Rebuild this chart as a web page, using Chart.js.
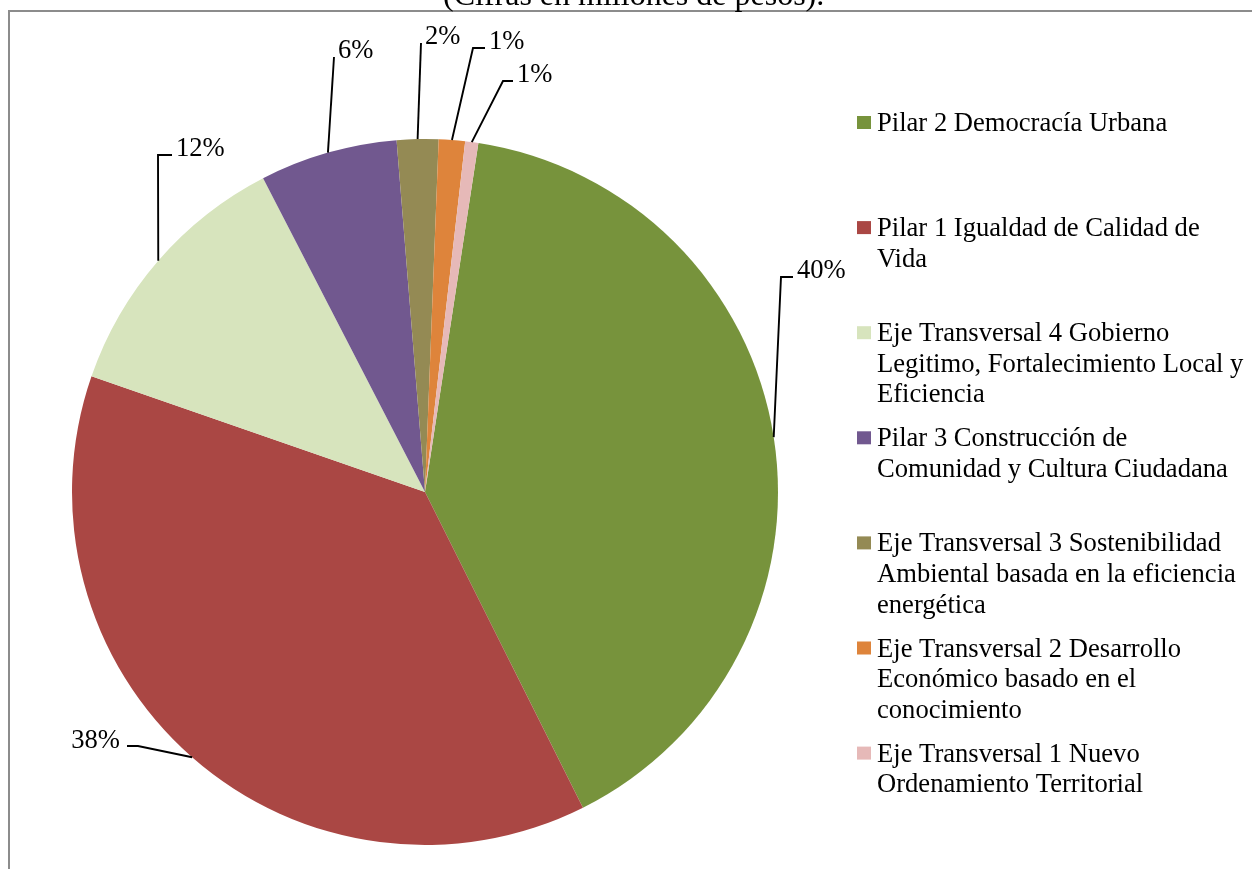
<!DOCTYPE html>
<html>
<head>
<meta charset="utf-8">
<script src="https://cdn.jsdelivr.net/npm/chart.js@4.4.0/dist/chart.umd.min.js"></script>
<style>
  html, body { margin: 0; padding: 0; background: #fff; }
  #wrap { position: relative; width: 1252px; height: 869px; }
</style>
</head>
<body>
<div id="wrap"><canvas id="pieChart"></canvas></div>
<script>
// Data (share of budget, %)
const categories = [
    "Pilar 2 Democracía Urbana",
    "Pilar 1 Igualdad de Calidad de Vida",
    "Eje Transversal 4 Gobierno Legitimo, Fortalecimiento Local y Eficiencia",
    "Pilar 3 Construcción de Comunidad y Cultura Ciudadana",
    "Eje Transversal 3 Sostenibilidad Ambiental basada en la eficiencia energética",
    "Eje Transversal 2 Desarrollo Económico basado en el conocimiento",
    "Eje Transversal 1 Nuevo Ordenamiento Territorial",
];
const shares = [40.2, 37.7, 12.1, 6.3, 1.9, 1.2, 0.6];

// Legend lines as they wrap in the reference
const legendLines = [
    ["Pilar 2 Democracía Urbana"],
    ["Pilar 1 Igualdad de Calidad de", "Vida"],
    ["Eje Transversal 4 Gobierno", "Legitimo, Fortalecimiento Local y", "Eficiencia"],
    ["Pilar 3 Construcción de", "Comunidad y Cultura Ciudadana"],
    ["Eje Transversal 3 Sostenibilidad", "Ambiental basada en la eficiencia", "energética"],
    ["Eje Transversal 2 Desarrollo", "Económico basado en el", "conocimiento"],
    ["Eje Transversal 1 Nuevo", "Ordenamiento Territorial"],
];

const titleText = "(Cifras en millones de pesos).";

const sliceColors = ["#77933C", "#AA4744", "#D7E4BD", "#71588F", "#948A54", "#DE843B", "#E6B9B8"];

// elbow of each leader line, relative to pie centre, plus horizontal tail
const labelSpots = [
    [356, -215, 12],
    [-287, 254, -11],
    [-267, -337, 14],
    [-91, -435, 0],
    [-4, -449, 0],
    [48, -444, 12],
    [78, -411, 10],
];

const FONT = "Liberation Serif, 'Times New Roman', serif";

// frame + title
const framePlugin = {
    id: "frame",
    beforeDraw(chart) {
        const c = chart.ctx;
        c.save();
        c.strokeStyle = "#8c8c8c";
        c.lineWidth = 2;
        c.beginPath();
        c.moveTo(9, 900);
        c.lineTo(9, 11);
        c.lineTo(1300, 11);
        c.stroke();
        c.fillStyle = "#000";
        c.font = "32px " + FONT;
        c.textAlign = "left";
        c.textBaseline = "alphabetic";
        c.fillText(titleText, 443, 5);
        c.restore();
    },
};

// percentage labels with leader lines
const labelPlugin = {
    id: "pctLabels",
    afterDatasetsDraw(chart) {
        const c = chart.ctx;
        const meta = chart.getDatasetMeta(0);
        const data = chart.data.datasets[0].data;
        const total = data.reduce((a, b) => a + b, 0);
        c.save();
        c.strokeStyle = "#000";
        c.lineWidth = 1.9;
        c.fillStyle = "#000";
        c.font = "26.6px " + FONT;
        c.textBaseline = "alphabetic";
        meta.data.forEach((arc, i) => {
            const mid = (arc.startAngle + arc.endAngle) / 2;
            const sx = arc.x + Math.cos(mid) * arc.outerRadius;
            const sy = arc.y + Math.sin(mid) * arc.outerRadius;
            const [ex, ey, tail] = labelSpots[i];
            const elx = arc.x + ex, ely = arc.y + ey;
            c.beginPath();
            c.moveTo(sx, sy);
            c.lineTo(elx, ely);
            c.lineTo(elx + tail, ely);
            c.stroke();
            const txt = Math.round(data[i] / total * 100) + "%";
            if (tail < 0) {
                c.textAlign = "right";
                c.fillText(txt, elx + tail - 7, ely + 2);
            } else {
                c.textAlign = "left";
                c.fillText(txt, elx + tail + 4, ely + 1);
            }
        });
        c.restore();
    },
};

// wrapped legend on the right
const legendPlugin = {
    id: "wrapLegend",
    afterDraw(chart) {
        const c = chart.ctx;
        const colors = chart.data.datasets[0].backgroundColor;
        c.save();
        c.font = "26.6px " + FONT;
        c.textAlign = "left";
        c.textBaseline = "alphabetic";
        legendLines.forEach((lines, i) => {
            const base = 131 + i * 105.1;
            c.fillStyle = colors[i];
            c.fillRect(857, base - 15, 14, 13);
            c.fillStyle = "#000";
            lines.forEach((ln, j) => c.fillText(ln, 877, base + j * 30.6));
        });
        c.restore();
    },
};

const ctx = document.getElementById("pieChart").getContext("2d");
const chart = new Chart(ctx, {
    type: "pie",
    data: {
        labels: categories,
        datasets: [{
            data: shares,
            backgroundColor: sliceColors,
            borderWidth: 0,
        }],
    },
    options: {
        responsive: true,
        maintainAspectRatio: false,
        animation: false,
        rotation: 8.7,
        layout: {
            padding: { left: 72, top: 139, right: 474, bottom: 24 },
        },
        plugins: {
            legend: { display: false },
            title: { display: false },
            tooltip: { enabled: false },
        },
    },
    plugins: [framePlugin, labelPlugin, legendPlugin],
});
</script>
</body>
</html>
